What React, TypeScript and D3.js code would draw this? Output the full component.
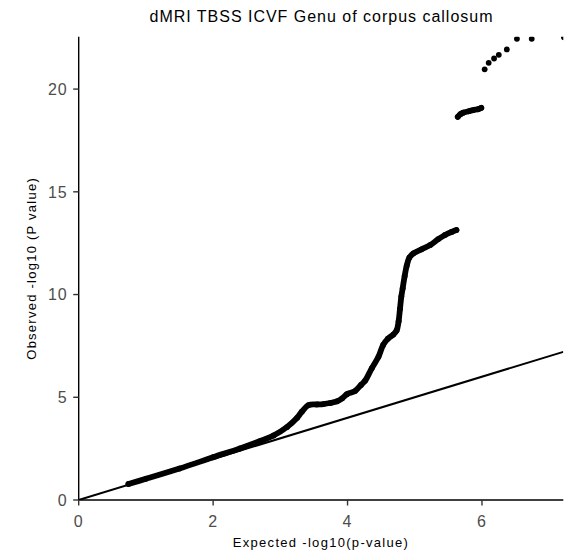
import React from "react";
import * as d3 from "d3";

const chartTitle = "dMRI TBSS ICVF Genu of corpus callosum";
const xTitle = "Expected -log10(p-value)";
const yTitle = "Observed -log10 (P value)";
const xTicks = [0, 2, 4, 6];
const yTicks = [0, 5, 10, 15, 20];
const xMax = 7.21;
const yMax = 22.55;

// main continuous run of points
const mainExpected = [0.74, 1.0, 1.5, 2.0, 2.4, 2.7, 2.9, 3.1, 3.25, 3.32, 3.42, 3.55, 3.64, 3.74, 3.84, 3.92, 3.99, 4.11, 4.2, 4.26, 4.36, 4.46, 4.53, 4.6, 4.68, 4.73, 4.76, 4.78, 4.8, 4.82, 4.85, 4.88, 4.92, 4.98, 5.1, 5.23, 5.35, 5.45, 5.55, 5.62];
const mainObserved = [0.78, 1.03, 1.53, 2.08, 2.51, 2.87, 3.14, 3.55, 4.0, 4.3, 4.62, 4.65, 4.67, 4.72, 4.8, 4.95, 5.15, 5.3, 5.6, 5.8, 6.41, 6.97, 7.55, 7.85, 8.05, 8.25, 8.7, 9.3, 9.9, 10.3, 10.9, 11.4, 11.8, 12.0, 12.2, 12.41, 12.7, 12.9, 13.05, 13.14];

// second continuous run (upper cluster)
const clusterExpected = [5.64, 5.68, 5.72, 5.8, 5.87, 5.94, 5.99];
const clusterObserved = [18.65, 18.78, 18.85, 18.92, 18.98, 19.02, 19.09];

// isolated top hits
const topExpected = [6.04, 6.1, 6.18, 6.25, 6.37, 6.52, 6.74, 7.22];
const topObserved = [20.96, 21.28, 21.49, 21.67, 21.93, 22.45, 22.45, 22.52];

const W = 581;
const H = 556;
const left = 78.7;
const right = 563.3;
const top = 36.7;
const bottom = 500;
const R = 2.9;

export default function App() {
  const x = d3.scaleLinear().domain([0, xMax]).range([left, right]);
  const y = d3.scaleLinear().domain([0, yMax]).range([bottom, top]);
  const mainPts: [number, number][] = mainExpected.map((e, i) => [e, mainObserved[i]]);
  const clusterPts: [number, number][] = clusterExpected.map((e, i) => [e, clusterObserved[i]]);
  const topPts: [number, number][] = topExpected.map((e, i) => [e, topObserved[i]]);
  const lineSeg = d3
    .line<[number, number]>()
    .x((d) => x(d[0]))
    .y((d) => y(d[1]))
    .curve(d3.curveCatmullRom);
  const font = "'Liberation Sans', Arial, sans-serif";
  return (
    <svg
      width={W}
      height={H}
      style={{ position: "absolute", left: 0, top: 0, background: "#fff" }}
    >
      <defs>
        <clipPath id="panel">
          <rect x={left} y={top} width={right - left} height={bottom - top} />
        </clipPath>
      </defs>
      <rect width={W} height={H} fill="#fff" />
      <g clipPath="url(#panel)">
        <line
          x1={x(0)}
          y1={y(0)}
          x2={x(xMax)}
          y2={y(xMax)}
          stroke="#000"
          strokeWidth={2}
        />
        <path
          d={lineSeg(mainPts) || ""}
          fill="none"
          stroke="#000"
          strokeWidth={R * 2}
          strokeLinecap="round"
          strokeLinejoin="round"
        />
        <path
          d={lineSeg(clusterPts) || ""}
          fill="none"
          stroke="#000"
          strokeWidth={R * 2}
          strokeLinecap="round"
          strokeLinejoin="round"
        />
        {[...mainPts, ...clusterPts, ...topPts].map((d, i) => (
          <circle key={i} cx={x(d[0])} cy={y(d[1])} r={R} fill="#000" />
        ))}
      </g>
      {/* axes */}
      <line x1={left} y1={bottom} x2={right} y2={bottom} stroke="#000" strokeWidth={1.4} />
      <line x1={left} y1={bottom} x2={left} y2={top} stroke="#000" strokeWidth={1.4} />
      {xTicks.map((t) => (
        <g key={"x" + t}>
          <line x1={x(t)} x2={x(t)} y1={bottom} y2={bottom + 5.5} stroke="#333" strokeWidth={1.4} />
          <text
            x={x(t)}
            y={bottom + 26.5}
            textAnchor="middle"
            fontFamily={font}
            fontSize={16}
            letterSpacing={1}
            fill="#4d4d4d"
          >
            {t}
          </text>
        </g>
      ))}
      {yTicks.map((t) => (
        <g key={"y" + t}>
          <line x1={left - 5.5} x2={left} y1={y(t)} y2={y(t)} stroke="#333" strokeWidth={1.4} />
          <text
            x={left - 11}
            y={y(t)}
            dy="0.36em"
            textAnchor="end"
            fontFamily={font}
            fontSize={16}
            letterSpacing={1}
            fill="#4d4d4d"
          >
            {t}
          </text>
        </g>
      ))}
      <text
        x={(left + right) / 2}
        y={22}
        textAnchor="middle"
        fontFamily={font}
        fontSize={16}
        textLength={343}
        lengthAdjust="spacing"
        fill="#000"
      >
        {chartTitle}
      </text>
      <text
        x={(left + right) / 2}
        y={547}
        textAnchor="middle"
        fontFamily={font}
        fontSize={13}
        letterSpacing={1.3}
        fill="#000"
      >
        {xTitle}
      </text>
      <text
        transform={`translate(36,${(top + bottom) / 2}) rotate(-90)`}
        textAnchor="middle"
        fontFamily={font}
        fontSize={13}
        letterSpacing={1.25}
        fill="#000"
      >
        {yTitle}
      </text>
    </svg>
  );
}
